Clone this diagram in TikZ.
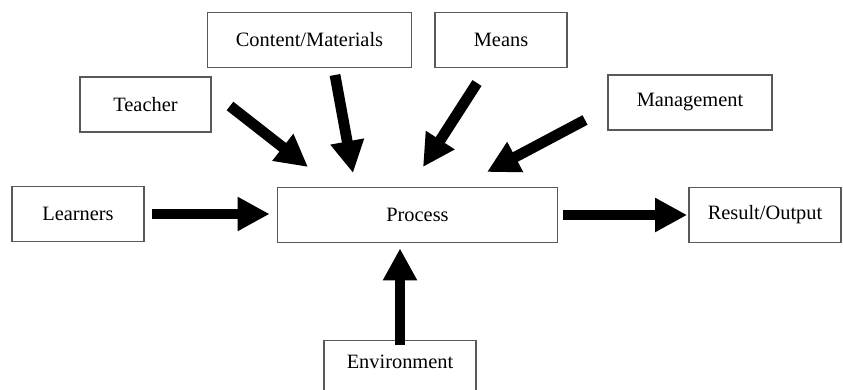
\documentclass[tikz,border=0pt]{standalone}
\usepackage{fontspec}
\setmainfont{Liberation Serif}
\usetikzlibrary{arrows.meta}

\begin{document}
\begin{tikzpicture}[
    x=0.025cm, y=-0.025cm,
    box/.style={draw=black!65, line width=0.9pt, fill=white,
        minimum height=1.375cm, inner sep=2pt, font=\fontsize{14.5}{16}\selectfont},
    flow/.style={line width=0.27cm, -{Triangle[length=0.8cm, width=0.8cm]}}
]
    \useasboundingbox (0,0) rectangle (843,389);
    \node[box, minimum width=5.1cm] (content) at (309.5,40) {Content/Materials};
    \node[box, minimum width=3.3cm] (means) at (501,40) {Means};
    \node[box, minimum width=3.275cm] (teacher) at (145.5,104.5) {Teacher};
    \node[box, minimum width=4.1cm] (management) at (690,102.5) {Management};
    \node[box, minimum width=3.3cm] (learners) at (78,214) {Learners};
    \node[box, minimum width=7.0cm] (process) at (417.5,215) {Process};
    \node[box, minimum width=3.8cm] (result) at (765,215) {Result/Output};
    \node[box, minimum width=3.8cm, text depth=0.3cm] (environment) at (400,368) {Environment};
    % ends of the slanted arrows
    \coordinate (teacher-tail) at (230,106);
    \coordinate (teacher-head) at (308,167);
    \coordinate (content-tail) at (335,75);
    \coordinate (content-head) at (353,173);
    \coordinate (means-tail) at (477,83);
    \coordinate (means-head) at (423,167);
    \coordinate (management-tail) at (585,120);
    \coordinate (management-head) at (487,172);
    \draw[flow] (teacher-tail) -- (teacher-head);
    \draw[flow] (content-tail) -- (content-head);
    \draw[flow] (means-tail) -- (means-head);
    \draw[flow] (management-tail) -- (management-head);
    \draw[flow, shorten <=0.18cm, shorten >=0.18cm] (learners.east) -- (learners.east -| process.west);
    \draw[flow, shorten <=0.13cm, shorten >=0.03cm] (process.east) -- (process.east -| result.west);
    \draw[flow, shorten <=-0.13cm, shorten >=0.13cm] (environment.north) -- (environment.north |- process.south);
\end{tikzpicture}
\end{document}
